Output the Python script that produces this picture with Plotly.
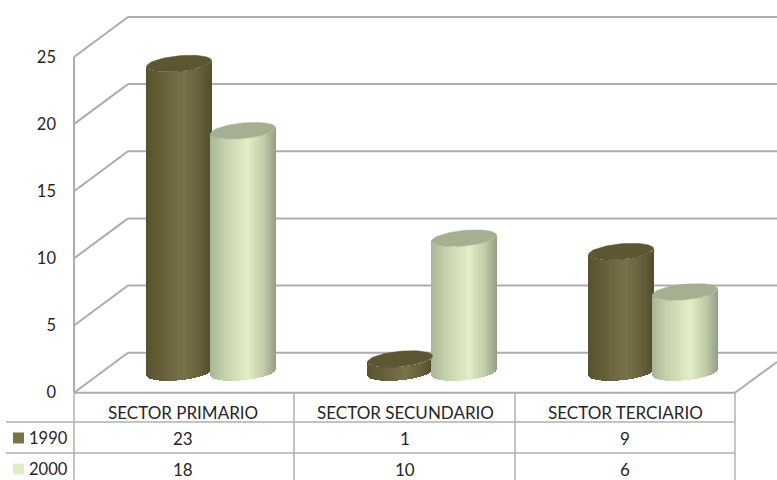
import numpy as np
import plotly.graph_objects as go

categories = ["SECTOR PRIMARIO", "SECTOR SECUNDARIO", "SECTOR TERCIARIO"]
series_names = ["1990", "2000"]
values_1990 = [23, 1, 9]
values_2000 = [18, 10, 6]
y_ticks = [0, 5, 10, 15, 20, 25]

W, H = 777, 480
Y0_PX, UNIT = 392.7, 13.43
FONT = "Lato"
TXT = "#262626"
GRID = "#adadad"
TLINE = "#b0b0b0"


def v(py):
    return (Y0_PX - py) / UNIT


def hex2rgb(h):
    return np.array([int(h[i:i + 2], 16) for i in (1, 3, 5)], float)


def ramp(stops, u):
    us = [s[0] for s in stops]
    cols = np.array([hex2rgb(s[1]) for s in stops])
    return "rgb(%d,%d,%d)" % tuple(np.interp(u, us, cols[:, k]) for k in range(3))


STYLES = [
    dict(stops=[(-1, "#58532f"), (-0.6, "#645e38"), (0.15, "#7a7249"), (0.7, "#645e38"), (1, "#524d2c")],
         top="#5c5732", swatch="#7a7249"),
    dict(stops=[(-1, "#aab596"), (-0.6, "#c4d0ac"), (0.15, "#e3efc6"), (0.65, "#c0cba8"), (1, "#96a087")],
         top="#a5b092", swatch="#e0ecc4"),
]
A, B, S = 32.5, 7.8, 3.0
BASE_PX = 372.5
DEPTH_X, DEPTH_Y = 54, 40
X_FRONT, X_END = 74, 777

fig = go.Figure()

for j, vals in enumerate([values_1990, values_2000]):
    st = STYLES[j]
    for i, val in enumerate(vals):
        cx = 179 + i * 221 + j * 64
        xs = np.arange(np.floor(cx - A), np.ceil(cx + A)) + 0.5
        u = np.clip((xs - cx) / A, -1, 1)
        base = BASE_PX - S * u + B * np.sqrt(1 - u ** 2)
        fig.add_trace(go.Bar(
            x=xs, y=[val] * len(xs), base=[v(p) for p in base], width=1,
            marker=dict(color=[ramp(st["stops"], q) for q in u], line_width=0),
            showlegend=False, hoverinfo="skip"))
        t = np.linspace(0, 2 * np.pi, 73)
        top_y = v(BASE_PX) + val
        fig.add_trace(go.Scatter(
            x=cx + A * np.cos(t),
            y=top_y + (S * np.cos(t) + B * np.sin(t)) / UNIT,
            mode="lines", fill="toself", fillcolor=st["top"],
            line=dict(color=st["top"], width=0.5),
            showlegend=False, hoverinfo="skip"))

shapes = []


def line(x0, y0, x1, y1, color=GRID, w=2):
    shapes.append(dict(type="line", xref="x", yref="y", x0=x0, y0=y0, x1=x1, y1=y1,
                       layer="below", line=dict(color=color, width=w)))


dy = DEPTH_Y / UNIT
for tv in y_ticks:
    line(X_FRONT, tv, X_FRONT + DEPTH_X, tv + dy)
    line(X_FRONT + DEPTH_X, tv + dy, X_END, tv + dy)
line(X_FRONT, 0, X_FRONT, y_ticks[-1])
line(X_FRONT, 0, 735, 0)
line(735, 0, 777, v(362))

rows_px = [422, 453]
for r in rows_px:
    line(6, v(r), 735, v(r), TLINE, 1.5)
for x in [74, 294, 515, 735]:
    line(x, 0, x, v(480), TLINE, 1.5)

annotations = []


def text(x, py, s, size=17, anchor="center"):
    annotations.append(dict(x=x, y=v(py), xref="x", yref="y", text=s, showarrow=False,
                            xanchor=anchor, yanchor="middle",
                            font=dict(family=FONT, size=size, color=TXT)))


centers = [183, 405, 625]
for c, cat, a, b in zip(centers, categories, values_1990, values_2000):
    text(c, 412, cat)
    text(c, 438, str(a))
    text(c, 469, str(b))
for j, (name, py) in enumerate(zip(series_names, [438, 469])):
    text(27, py, name, size=16.5, anchor="left")
    shapes.append(dict(type="rect", xref="x", yref="y", x0=13, x1=24,
                       y0=v(py - 5.5), y1=v(py + 5.5), line_width=0,
                       fillcolor=STYLES[j]["swatch"]))

fig.update_layout(
    width=W, height=H, margin=dict(l=0, r=0, t=0, b=0, pad=0),
    paper_bgcolor="white", plot_bgcolor="white",
    barmode="overlay", bargap=0, showlegend=False,
    shapes=shapes, annotations=annotations,
    xaxis=dict(range=[0, W], visible=False, domain=[0, 1], fixedrange=True),
    yaxis=dict(range=[v(H), v(0)], anchor="free", position=X_FRONT / W,
               tickvals=y_ticks, ticktext=[str(t) for t in y_ticks],
               ticks="", showgrid=False, zeroline=False, showline=False,
               ticklabelstandoff=18, fixedrange=True,
               tickfont=dict(family=FONT, size=16.5, color=TXT)),
)
fig.write_html("out.html", config=dict(displayModeBar=False),
               post_script="document.body.style.margin='0';document.body.style.overflow='hidden';")
